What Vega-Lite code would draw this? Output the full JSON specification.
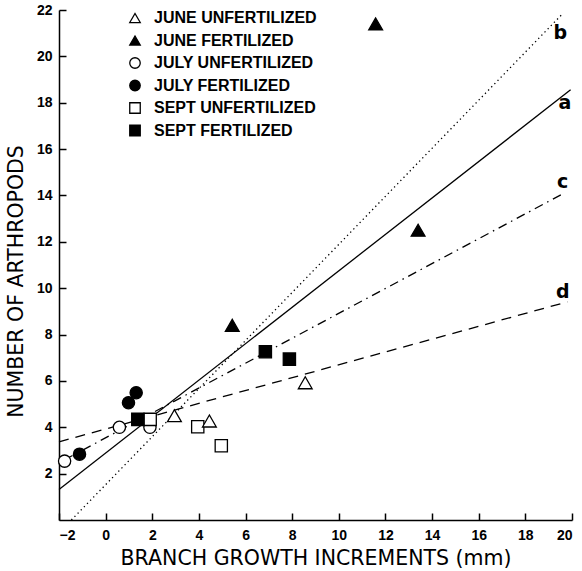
{
  "$schema": "https://vega.github.io/schema/vega-lite/v6.json",
  "width": 513,
  "height": 510,
  "autosize": {"type": "none"},
  "padding": {"left": 59, "top": 10, "right": 10, "bottom": 51},
  "config": {
    "view": {"stroke": null},
    "font": "Liberation Sans",
    "axis": {
      "domainColor": "black", "domainWidth": 1.5, "tickColor": "black", "tickWidth": 1.5,
      "grid": false, "labelColor": "black", "titleColor": "black",
      "labelFont": "Liberation Sans", "labelFontSize": 14, "labelFontWeight": "bold",
      "titleFont": "DejaVu Sans", "titleFontWeight": "normal", "titleFontSize": 20.5
    },
    "legend": {"labelFont": "Liberation Sans", "labelFontWeight": "bold", "labelFontSize": 16, "labelColor": "black", "labelLimit": 400}
  },
  "datasets": {
    "points": [
      {"series": "JUNE UNFERTILIZED", "x": 2.95, "y": 4.5},
      {"series": "JUNE UNFERTILIZED", "x": 4.45, "y": 4.27},
      {"series": "JUNE UNFERTILIZED", "x": 8.56, "y": 5.92},
      {"series": "JUNE FERTILIZED", "x": 11.58, "y": 21.4},
      {"series": "JUNE FERTILIZED", "x": 13.4, "y": 12.5},
      {"series": "JUNE FERTILIZED", "x": 5.43, "y": 8.4},
      {"series": "JULY UNFERTILIZED", "x": -1.76, "y": 2.54},
      {"series": "JULY UNFERTILIZED", "x": 0.59, "y": 4.0},
      {"series": "JULY UNFERTILIZED", "x": 1.9, "y": 4.0},
      {"series": "JULY FERTILIZED", "x": -1.12, "y": 2.84},
      {"series": "JULY FERTILIZED", "x": 0.98, "y": 5.06},
      {"series": "JULY FERTILIZED", "x": 1.31, "y": 5.49},
      {"series": "SEPT UNFERTILIZED", "x": 1.91, "y": 4.34},
      {"series": "SEPT UNFERTILIZED", "x": 3.95, "y": 4.02},
      {"series": "SEPT UNFERTILIZED", "x": 4.96, "y": 3.2},
      {"series": "SEPT FERTILIZED", "x": 1.38, "y": 4.34},
      {"series": "SEPT FERTILIZED", "x": 6.85, "y": 7.26},
      {"series": "SEPT FERTILIZED", "x": 7.88, "y": 6.94}
    ],
    "fits": [
      {"line": "a", "x": -2, "y": 1.32},
      {"line": "a", "x": 19.94, "y": 18.56},
      {"line": "b", "x": -1.47, "y": 0},
      {"line": "b", "x": 19.56, "y": 21.8},
      {"line": "c", "x": -1.76, "y": 2.6},
      {"line": "c", "x": 19.66, "y": 14.1},
      {"line": "d", "x": -2, "y": 3.37},
      {"line": "d", "x": 19.8, "y": 9.41}
    ],
    "labels": [
      {"label": "a", "x": 19.7, "y": 18.0},
      {"label": "b", "x": 19.5, "y": 21.0},
      {"label": "c", "x": 19.6, "y": 14.6},
      {"label": "d", "x": 19.6, "y": 9.85}
    ]
  },
  "layer": [
    {
      "data": {"name": "fits"},
      "transform": [{"filter": "datum.line == 'a'"}],
      "mark": {"type": "line", "color": "black", "strokeWidth": 1.3},
      "encoding": {
        "x": {"field": "x", "type": "quantitative", "scale": {"domain": [-2, 20], "nice": false, "zero": false},
              "axis": {"values": [-2,0,2,4,6,8,10,12,14,16,18,20], "tickSize": -7, "labelPadding": 15,
                       "title": "BRANCH GROWTH INCREMENTS (mm)", "titlePadding": 6}},
        "y": {"field": "y", "type": "quantitative", "scale": {"domain": [0, 22], "nice": false},
              "axis": {"values": [2,4,6,8,10,12,14,16,18,20,22], "tickSize": -7, "labelPadding": 14,
                       "title": "NUMBER OF ARTHROPODS", "titleX": -43, "titleY": 271, "titleBaseline": "middle", "titleAngle": -90}}
      }
    },
    {
      "data": {"name": "fits"},
      "transform": [{"filter": "datum.line == 'b'"}],
      "mark": {"type": "line", "color": "black", "strokeWidth": 1.3, "strokeDash": [1.3, 3.2]},
      "encoding": {"x": {"field": "x", "type": "quantitative"}, "y": {"field": "y", "type": "quantitative"}}
    },
    {
      "data": {"name": "fits"},
      "transform": [{"filter": "datum.line == 'c'"}],
      "mark": {"type": "line", "color": "black", "strokeWidth": 1.3, "strokeDash": [9, 5, 1.5, 5]},
      "encoding": {"x": {"field": "x", "type": "quantitative"}, "y": {"field": "y", "type": "quantitative"}}
    },
    {
      "data": {"name": "fits"},
      "transform": [{"filter": "datum.line == 'd'"}],
      "mark": {"type": "line", "color": "black", "strokeWidth": 1.3, "strokeDash": [10, 7]},
      "encoding": {"x": {"field": "x", "type": "quantitative"}, "y": {"field": "y", "type": "quantitative"}}
    },
    {
      "data": {"name": "labels"},
      "mark": {"type": "text", "font": "DejaVu Sans", "fontWeight": "bold", "fontSize": 19, "color": "black", "baseline": "middle", "align": "center"},
      "encoding": {"x": {"field": "x", "type": "quantitative"}, "y": {"field": "y", "type": "quantitative"}, "text": {"field": "label"}}
    },
    {
      "data": {"name": "points"},
      "transform": [{"filter": "indexof(datum.series, 'JUNE') < 0"}],
      "mark": {"type": "point", "filled": true, "stroke": "black", "strokeWidth": 1.3, "size": 150, "opacity": 1},
      "encoding": {
        "x": {"field": "x", "type": "quantitative"},
        "y": {"field": "y", "type": "quantitative"},
        "shape": {"field": "series", "type": "nominal",
          "scale": {"domain": ["JUNE UNFERTILIZED","JUNE FERTILIZED","JULY UNFERTILIZED","JULY FERTILIZED","SEPT UNFERTILIZED","SEPT FERTILIZED"],
                    "range": ["triangle-up","triangle-up","circle","circle","square","square"]},
          "legend": {"title": null, "orient": "none", "legendX": 68, "legendY": 0, "symbolSize": 110, "symbolStrokeWidth": 1.3, "labelOffset": 11, "rowPadding": 6.5, "labelLimit": 400,
                     "encode": {"symbols": {"update": {"stroke": {"value": "black"}, "strokeWidth": {"value": 1.3}}}}}},
        "fill": {"field": "series", "type": "nominal",
          "scale": {"domain": ["JUNE UNFERTILIZED","JUNE FERTILIZED","JULY UNFERTILIZED","JULY FERTILIZED","SEPT UNFERTILIZED","SEPT FERTILIZED"],
                    "range": ["white","black","white","black","white","black"]},
          "legend": {"title": null, "orient": "none", "legendX": 68, "legendY": 0, "symbolSize": 110, "symbolStrokeWidth": 1.3, "labelOffset": 11, "rowPadding": 6.5, "labelLimit": 400,
                     "encode": {"symbols": {"update": {"stroke": {"value": "black"}, "strokeWidth": {"value": 1.3}}}}}}
      }
    },
    {
      "data": {"name": "points"},
      "transform": [{"filter": "indexof(datum.series, 'JUNE') >= 0"}],
      "mark": {"type": "point", "filled": true, "stroke": "black", "strokeWidth": 1.3, "size": 190, "opacity": 1},
      "encoding": {
        "x": {"field": "x", "type": "quantitative"},
        "y": {"field": "y", "type": "quantitative"},
        "shape": {"field": "series", "type": "nominal"},
        "fill": {"field": "series", "type": "nominal"}
      }
    }
  ]
}
